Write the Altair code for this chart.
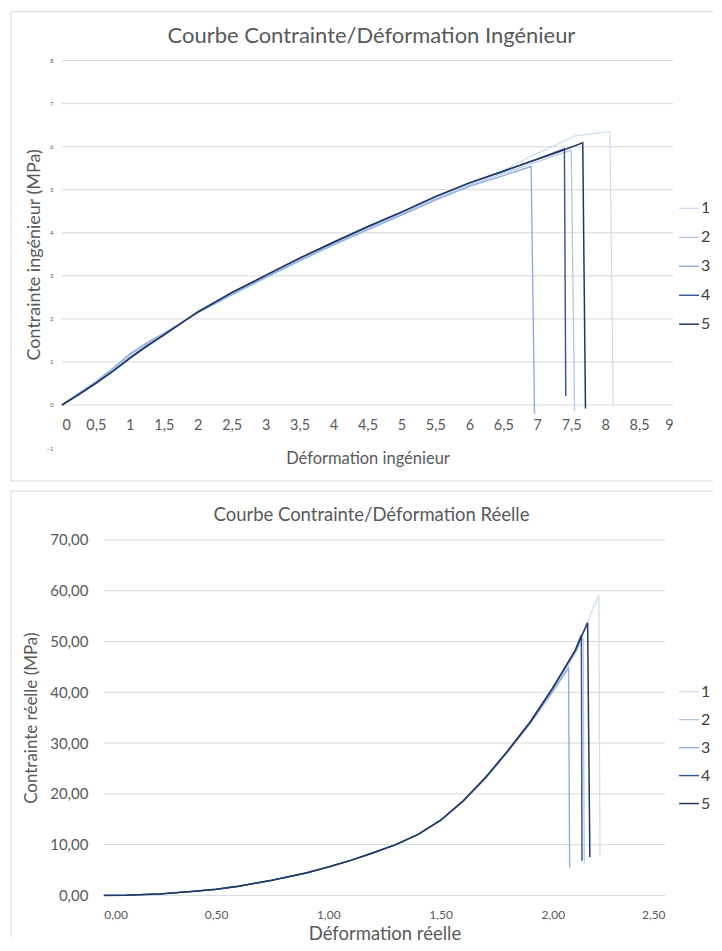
import altair as alt
import pandas as pd

series = ["1", "2", "3", "4", "5"]
colors = ["#cfdcf1", "#b4c7e7", "#8faadc", "#2f5597", "#203864"]
widths = [1.2, 1.5, 1.8, 2.0, 2.0]

# ---- Courbe ingénieur (déformation, contrainte MPa) ----
eng_x = {
    "1": [0, 0.25, 0.5, 0.75, 1, 1.25, 1.5, 2, 2.5, 3, 3.5, 4, 4.5, 5, 5.5, 6, 6.5, 6.9, 7.56, 8.07, 8.12],
    "2": [0, 0.25, 0.5, 0.75, 1, 1.25, 1.5, 2, 2.5, 3, 3.5, 4, 4.5, 5, 5.5, 6, 6.5, 7, 7.5, 7.55],
    "3": [0, 0.25, 0.5, 0.75, 1, 1.25, 1.5, 2, 2.5, 3, 3.5, 4, 4.5, 5, 5.5, 6, 6.5, 6.91, 6.96],
    "4": [0, 0.25, 0.5, 0.75, 1, 1.25, 1.5, 2, 2.5, 3, 3.5, 4, 4.5, 5, 5.5, 6, 6.5, 7, 7.40, 7.42],
    "5": [0, 0.25, 0.5, 0.75, 1, 1.25, 1.5, 2, 2.5, 3, 3.5, 4, 4.5, 5, 5.5, 6, 6.5, 7, 7.3, 7.67, 7.71],
}
eng_y = {
    "1": [0, 0.27, 0.55, 0.86, 1.20, 1.45, 1.67, 2.15, 2.57, 2.97, 3.37, 3.74, 4.10, 4.45, 4.80, 5.13, 5.45, 5.77, 6.25, 6.35, -0.02],
    "2": [0, 0.27, 0.54, 0.84, 1.17, 1.43, 1.66, 2.15, 2.58, 2.98, 3.38, 3.75, 4.10, 4.44, 4.79, 5.11, 5.38, 5.65, 5.92, -0.14],
    "3": [0, 0.27, 0.54, 0.84, 1.18, 1.44, 1.66, 2.14, 2.56, 2.96, 3.35, 3.72, 4.07, 4.41, 4.76, 5.08, 5.33, 5.54, -0.21],
    "4": [0, 0.25, 0.51, 0.79, 1.10, 1.38, 1.63, 2.16, 2.61, 3.01, 3.41, 3.78, 4.14, 4.48, 4.84, 5.16, 5.43, 5.71, 5.95, 0.21],
    "5": [0, 0.24, 0.50, 0.78, 1.08, 1.36, 1.62, 2.16, 2.61, 3.01, 3.41, 3.78, 4.14, 4.48, 4.84, 5.16, 5.43, 5.71, 5.87, 6.09, -0.08],
}

# ---- Courbe réelle ----
real_x = {
    "1": [0, 0.1, 0.25, 0.4, 0.5, 0.6, 0.75, 0.9, 1.0, 1.1, 1.2, 1.3, 1.4, 1.5, 1.6, 1.7, 1.8, 1.9, 2.0, 2.1, 2.205, 2.21],
    "2": [0, 0.1, 0.25, 0.4, 0.5, 0.6, 0.75, 0.9, 1.0, 1.1, 1.2, 1.3, 1.4, 1.5, 1.6, 1.7, 1.8, 1.9, 2.0, 2.1, 2.135, 2.14],
    "3": [0, 0.1, 0.25, 0.4, 0.5, 0.6, 0.75, 0.9, 1.0, 1.1, 1.2, 1.3, 1.4, 1.5, 1.6, 1.7, 1.8, 1.9, 2.0, 2.07, 2.075],
    "4": [0, 0.1, 0.25, 0.4, 0.5, 0.6, 0.75, 0.9, 1.0, 1.1, 1.2, 1.3, 1.4, 1.5, 1.6, 1.7, 1.8, 1.9, 2.0, 2.1, 2.127, 2.13],
    "5": [0, 0.1, 0.25, 0.4, 0.5, 0.6, 0.75, 0.9, 1.0, 1.1, 1.2, 1.3, 1.4, 1.5, 1.6, 1.7, 1.8, 1.9, 2.0, 2.1, 2.155, 2.165],
}
real_y = {
    "1": [0, 0.05, 0.3, 0.8, 1.2, 1.8, 3.0, 4.4, 5.6, 6.9, 8.4, 10.0, 12.0, 14.8, 18.5, 23.1, 28.4, 34.0, 40.4, 48.4, 59.1, 7.8],
    "2": [0, 0.05, 0.3, 0.8, 1.2, 1.8, 3.0, 4.4, 5.6, 6.9, 8.4, 10.0, 12.0, 14.8, 18.6, 23.2, 28.5, 34.1, 40.5, 47.6, 50.8, 6.4],
    "3": [0, 0.05, 0.3, 0.8, 1.2, 1.8, 3.0, 4.4, 5.6, 6.9, 8.4, 10.0, 12.0, 14.7, 18.5, 23.0, 28.3, 33.9, 40.2, 44.8, 5.5],
    "4": [0, 0.05, 0.3, 0.8, 1.2, 1.8, 3.0, 4.4, 5.6, 6.9, 8.4, 10.0, 12.0, 14.8, 18.6, 23.2, 28.5, 34.2, 40.8, 48.3, 51.3, 6.8],
    "5": [0, 0.05, 0.3, 0.8, 1.2, 1.8, 3.0, 4.4, 5.6, 6.9, 8.4, 10.0, 12.0, 14.8, 18.6, 23.2, 28.5, 34.2, 40.9, 48.2, 53.7, 7.5],
}

x_ticks_top = [0, 0.5, 1, 1.5, 2, 2.5, 3, 3.5, 4, 4.5, 5, 5.5, 6, 6.5, 7, 7.5, 8, 8.5, 9]
y_ticks_top = [-1, 0, 1, 2, 3, 4, 5, 6, 7, 8]
grid_top = [0, 1, 2, 3, 4, 5, 6, 7, 8]
x_ticks_bot = [0, 0.5, 1.0, 1.5, 2.0, 2.5]
y_ticks_bot = [0, 10, 20, 30, 40, 50, 60, 70]

title_top = "Courbe Contrainte/Déformation Ingénieur"
title_bot = "Courbe Contrainte/Déformation Réelle"

FONT = "Lato"
GRAY = "#595959"
LINE = "#d9d9d9"


def to_df(xs, ys):
    rows = []
    for s in series:
        for i, (a, b) in enumerate(zip(xs[s], ys[s])):
            rows.append({"serie": s, "i": i, "x": a, "y": b})
    return pd.DataFrame(rows)


df_eng = to_df(eng_x, eng_y)
df_real = to_df(real_x, real_y)
one = pd.DataFrame({"k": [0]})


def legend(lx, ly, rp):
    return alt.Legend(orient="none", legendX=lx, legendY=ly, title=None, padding=0,
                      symbolType="stroke", symbolSize=400, labelFont=FONT,
                      labelFontSize=16, labelColor="#404040", rowPadding=rp, labelOffset=1)


def rule(**kw):
    return alt.Chart(one).mark_rule(color=LINE, strokeWidth=1).encode(**kw)


# ---------- top chart ----------
W1, H1 = 612, 388
xs1 = alt.Scale(domain=[0, 9], nice=False, zero=False)
ys1 = alt.Scale(domain=[-1, 8], nice=False, zero=False)
leg1 = legend(617, 137, 10)
ax_y1 = alt.Axis(values=y_ticks_top, grid=False, domain=False, ticks=False,
                 labelFontSize=6, labelPadding=9, title="Contrainte ingénieur (MPa)",
                 titleFontSize=18, titlePadding=2)
ax_x1 = alt.Axis(values=x_ticks_top, format="~g", labelExpr="replace(datum.label, '.', ',')",
                 title="Déformation ingénieur", grid=False, domain=False, ticks=False,
                 offset=-H1 / 9, labelPadding=14, titlePadding=18, labelFontSize=14.5,
                 titleFontSize=16.5)

grid1 = alt.Chart(pd.DataFrame({"v": grid_top})).mark_rule(color=LINE, strokeWidth=1).encode(
    y=alt.Y("v:Q", scale=ys1, axis=ax_y1))

lines1 = alt.Chart(df_eng).mark_line().encode(
    x=alt.X("x:Q", scale=xs1, axis=ax_x1),
    y=alt.Y("y:Q", scale=ys1, axis=ax_y1),
    color=alt.Color("serie:N", scale=alt.Scale(domain=series, range=colors), legend=leg1),
    strokeWidth=alt.StrokeWidth("serie:N", scale=alt.Scale(domain=series, range=widths), legend=leg1),
    order=alt.Order("i:Q"),
)

b1a = rule(x=alt.value(-51), x2=alt.value(652), y=alt.value(-49))
b1b = rule(x=alt.value(-51), y=alt.value(-49), y2=alt.value(421))
b1c = rule(x=alt.value(-51), x2=alt.value(652), y=alt.value(421))
t1 = alt.Chart(one).mark_text(text=title_top, font=FONT, fontSize=22, color=GRAY).encode(
    x=alt.value(310), y=alt.value(-25))

top = alt.layer(b1a, b1b, b1c, grid1, lines1, t1).properties(width=W1, height=H1)

# ---------- bottom chart (same left origin as top; plot drawn from x=42) ----------
W2, H2 = 604, 356
X0 = 42
xs2 = alt.Scale(domain=[0, 2.5], nice=False, zero=False, range=[X0, W2])
ys2 = alt.Scale(domain=[0, 70], nice=False, zero=False)
leg2 = legend(617, 141, 9)
ax_y2 = alt.Axis(values=y_ticks_bot, labelExpr="replace(format(datum.value, '.2f'), '.', ',')",
                 grid=False, domain=False, ticks=False, labelFontSize=15, labelPadding=16,
                 offset=-X0, title="Contrainte réelle (MPa)", titleFontSize=17, titlePadding=9)
ax_x2 = alt.Axis(values=x_ticks_bot, labelExpr="replace(format(datum.value, '.2f'), '.', ',')",
                 title="Déformation réelle", grid=False, domain=False, ticks=False,
                 labelPadding=14, titlePadding=4, labelFontSize=12, titleFontSize=18.5,
                 titleX=(X0 + W2) / 2)

grid2 = alt.Chart(pd.DataFrame({"v": y_ticks_bot})).mark_rule(color=LINE, strokeWidth=1).encode(
    x=alt.value(X0), x2=alt.value(W2),
    y=alt.Y("v:Q", scale=ys2, axis=ax_y2))

lines2 = alt.Chart(df_real).mark_line().encode(
    x=alt.X("x:Q", scale=xs2, axis=ax_x2),
    y=alt.Y("y:Q", scale=ys2, axis=ax_y2),
    color=alt.Color("serie:N", scale=alt.Scale(domain=series, range=colors), legend=leg2),
    strokeWidth=alt.StrokeWidth("serie:N", scale=alt.Scale(domain=series, range=widths), legend=leg2),
    order=alt.Order("i:Q"),
)

b2a = rule(x=alt.value(-51), x2=alt.value(652), y=alt.value(-49))
b2b = rule(x=alt.value(-51), y=alt.value(-49), y2=alt.value(398))
t2 = alt.Chart(one).mark_text(text=title_bot, font=FONT, fontSize=18.5, color=GRAY).encode(
    x=alt.value(310), y=alt.value(-25))

bottom = alt.layer(b2a, b2b, grid2, lines2, t2).properties(width=W2, height=H2)

chart = alt.vconcat(top, bottom, spacing=8).resolve_scale(
    color="independent", strokeWidth="independent"
).resolve_legend(
    color="independent", strokeWidth="independent"
).properties(
    padding={"left": 2, "top": 2, "right": 0, "bottom": 0}, background="white"
).configure_view(stroke="transparent").configure_axis(
    labelFont=FONT, titleFont=FONT, labelColor=GRAY, titleColor=GRAY, titleFontWeight="normal"
)

chart.save("out.html", embed_options={"renderer": "svg", "actions": False})
